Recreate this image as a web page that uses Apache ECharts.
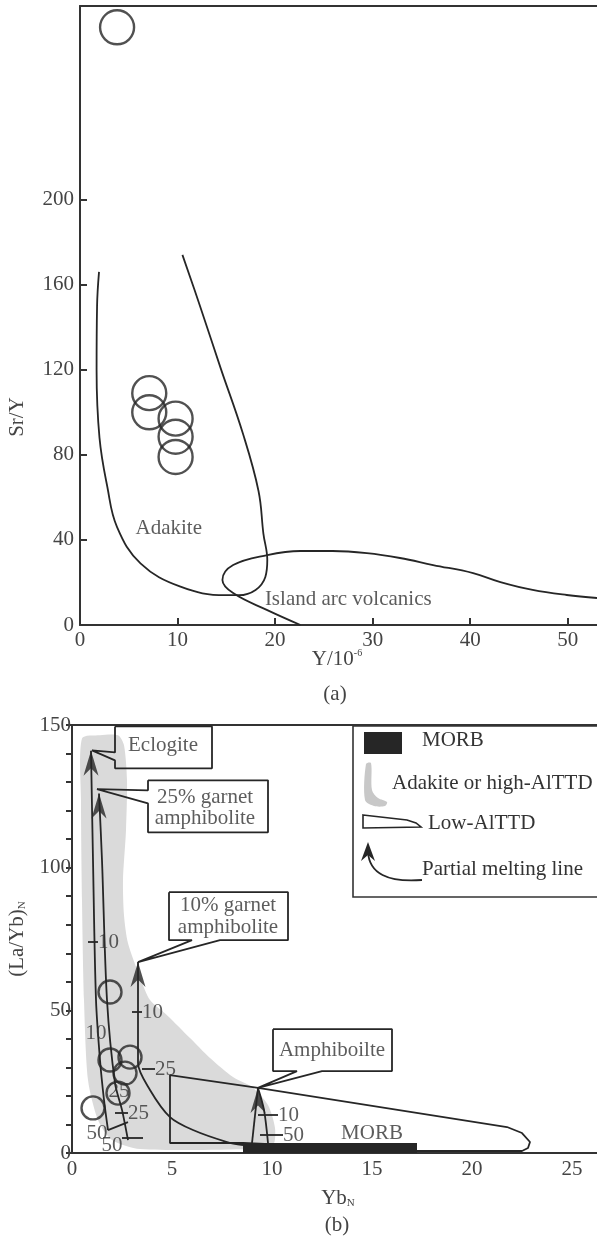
<!DOCTYPE html>
<html>
<head>
<meta charset="utf-8">
<script src="https://cdn.jsdelivr.net/npm/echarts@6/dist/echarts.min.js"></script>
<style>
html, body { margin: 0; padding: 0; background: #fff; }
#chart { width: 597px; height: 1240px; }
</style>
</head>
<body>
<div id="chart"></div>
<script>
// ---- (a) Sr/Y vs Y ----
var adakiteA = [[1.95,166],[1.75,150],[1.7,120],[2.0,88],[2.8,65],[3.8,46],[6.2,29],[10.3,18],[14.9,14],[16.3,14],[18,16.5],[19,22.6],[19.2,30.5],[18.8,43],[18.3,63],[16.7,90],[14.4,121],[12.3,150],[10.5,174]];
var islandArc = [[22.6,0],[19.2,7],[15.7,15],[14.6,21.2],[15.7,28.2],[19.2,32.9],[22.6,34.8],[25.9,34.8],[29.4,33.8],[32.8,31.5],[36.2,28.2],[40.3,24.4],[43.1,20.2],[46.4,16.5],[49.9,14.1],[53,12.7]];
var samplesA = [[3.8,281],[7.1,109],[7.1,100],[9.8,97],[9.8,88.5],[9.8,79]];
var textA = [[9.1,45.6,'Adakite'],[27.5,11.8,'Island arc volcanics']];
var yTicksA = [0,40,80,120,160,200];
var xTicksA = [0,10,20,30,40,50];

// ---- (b) (La/Yb)N vs YbN ----
var field = [[0.5,145.3],[1.4,146.4],[2.3,146.4],[2.6,142.9],[2.75,130.6],[2.7,113.1],[2.55,95.6],[2.6,83.3],[2.8,73.5],[3.4,61.6],[3.9,53.6],[4.75,48.3],[5.9,40.3],[6.9,33.3],[8.05,26.6],[9.0,23.1],[9.8,16.8],[10.15,8.75],[10.05,2.8],[8.9,1.4],[3.4,1.4],[2.0,4.55],[1.3,11.6],[0.8,25.6],[0.6,53.6],[0.5,88.6],[0.45,123.6]];
var morb = [[8.55,0],[17.25,0],[17.25,3.5],[8.55,3.5]];
var lowAl = [[4.9,27.3],[9.3,22.8],[21.75,9.1],[22.5,7],[22.9,3.85],[22.8,1.75],[22.5,0.7],[17.25,0.7],[8.55,3.5],[4.9,3.5],[4.9,27.3]];
var eclogiteLine = [[0.95,141],[1.05,102.6],[1.2,53.6],[1.4,32.6],[1.6,18.6],[1.8,8]];
var garnet25Line = [[1.35,126],[1.5,102.6],[1.75,53.6],[2.15,24.5],[2.5,15.1],[2.8,4.5]];
var garnet10Line = [[3.3,66.9],[3.3,31.5],[3.9,22.1],[4.9,12.6],[6.05,8.05],[7.75,3.85],[8.55,2.8]];
var amphLineL = [[9.3,22.8],[9.0,3.5]];
var amphLineR = [[9.3,22.8],[9.6,15.1],[9.8,3.5]];
var arrowTips = [[0.95,141],[1.35,126],[3.3,66.9],[9.3,22.8]];
var samplesB = [[1.9,56.4],[1.9,32.6],[2.9,33.6],[2.65,28],[2.3,21],[1.05,15.8]];
var meltTicks = [
  [[0.8,73.9],[1.3,73.9]], [[3.0,49.4],[3.5,49.4]], [[3.5,29.4],[4.15,29.4]],
  [[2.15,14],[2.8,14]], [[1.8,8],[2.8,10.85]], [[2.5,5.25],[3.55,5.25]],
  [[9.3,13.3],[10.3,13.3]], [[9.4,6.3],[10.55,6.3]]
];
var meltLabelsLeft = [[1.3,73.9,'10'],[3.5,49.4,'10'],[4.15,29.4,'25'],[2.8,14,'25'],[10.3,13.3,'10'],[10.55,6.3,'50']];
var meltLabelsMid = [[1.2,42,'10'],[2.35,21.4,'25'],[1.25,7,'50'],[2.0,2.8,'50']];
var calloutEclogite = [[2.15,149.5],[7.0,149.5],[7.0,134.8],[2.15,134.8],[2.15,137.6],[1.0,141.1],[2.15,140.4],[2.15,149.5]];
var callout25 = [[3.8,130.6],[9.8,130.6],[9.8,112.4],[3.8,112.4],[3.8,122.5],[1.25,127.5],[3.8,127.1],[3.8,130.6]];
var callout10 = [[4.85,91.4],[10.8,91.4],[10.8,74.6],[7.4,74.6],[3.3,66.9],[6.0,74.6],[4.85,74.6],[4.85,91.4]];
var calloutAmph = [[10.05,43.4],[16.0,43.4],[16.0,28.7],[12.5,28.7],[9.3,22.8],[11.25,28.7],[10.05,28.7],[10.05,43.4]];
var textB = [[4.55,142.9,'Eclogite'],[6.65,124.6,'25% garnet'],[6.65,117.3,'amphibolite'],[7.8,86.8,'10% garnet'],[7.8,79.1,'amphibolite'],[13.0,36.1,'Amphiboilte'],[15.0,7.0,'MORB']];
var yTicksB = [0,10,20,30,40,50,60,70,80,90,100,110,120,130,140,150];
var yLabelsB = [0,50,100,150];
var xTicksB = [0,5,10,15,20,25];

var FONT = "'Liberation Serif','Times New Roman',serif";
var FS = 21;
var INK = '#262626';
var chart = echarts.init(document.getElementById('chart'));

function curve(data, xi, yi, smooth) {
  return { type: 'line', xAxisIndex: xi, yAxisIndex: yi, data: data, smooth: smooth, symbol: 'none', silent: true,
    lineStyle: { color: INK, width: 1.8 }, z: 5 };
}
function poly(pts, fill, z) {
  return { type: 'custom', xAxisIndex: 2, yAxisIndex: 1, data: pts, z: z, silent: true,
    renderItem: function (params, api) {
      if (params.dataIndex !== 0) return;
      return { type: 'polygon', shape: { points: pts.map(function (p) { return api.coord(p); }), smooth: fill === INK ? 0 : 0.25 },
        style: { fill: fill } };
    } };
}
function texts(arr, xi, yi, align) {
  return { type: 'scatter', xAxisIndex: xi, yAxisIndex: yi, symbolSize: 1, silent: true, z: 8,
    itemStyle: { color: 'rgba(0,0,0,0)' },
    data: arr.map(function (t) { return { value: [t[0], t[1]], name: t[2] }; }),
    label: { show: true, position: 'inside', align: align, formatter: '{b}', color: '#333', fontSize: FS, fontFamily: FONT } };
}
function circles(arr, xi, yi, size) {
  return { type: 'scatter', xAxisIndex: xi, yAxisIndex: yi, data: arr, symbol: 'circle', symbolSize: size, silent: true, z: 7,
    itemStyle: { color: 'rgba(0,0,0,0)', borderColor: INK, borderWidth: 2.4 } };
}
var axisLineStyle = { lineStyle: { color: '#333', width: 2 } };
var labelStyle = { color: '#444', fontSize: FS, fontFamily: FONT };

chart.setOption({
  animation: false,
  backgroundColor: '#fff',
  grid: [
    { left: 80, top: 6, width: 517, height: 619 },
    { left: 72, top: 725, width: 525, height: 428 }
  ],
  xAxis: [
    { type: 'value', gridIndex: 0, min: 0, max: 53, axisLine: axisLineStyle, splitLine: { show: false },
      axisTick: { inside: true, length: 7, lineStyle: { color: '#333', width: 2 }, customValues: xTicksA.slice(1) },
      axisLabel: Object.assign({ margin: 5, customValues: xTicksA }, labelStyle) },
    { type: 'value', gridIndex: 0, position: 'top', min: 0, max: 53, axisLine: axisLineStyle,
      axisTick: { show: false }, axisLabel: { show: false }, splitLine: { show: false } },
    { type: 'value', gridIndex: 1, min: 0, max: 26.25, axisLine: axisLineStyle, splitLine: { show: false },
      axisTick: { show: false }, axisLabel: Object.assign({ margin: 6, customValues: xTicksB }, labelStyle) },
    { type: 'value', gridIndex: 1, position: 'top', min: 0, max: 26.25, axisLine: axisLineStyle,
      axisTick: { show: false }, axisLabel: { show: false }, splitLine: { show: false } }
  ],
  yAxis: [
    { type: 'value', gridIndex: 0, min: 0, max: 291, axisLine: axisLineStyle, splitLine: { show: false },
      axisTick: { inside: true, length: 7, lineStyle: { color: '#333', width: 2 }, customValues: yTicksA.slice(1) },
      axisLabel: Object.assign({ margin: 6, customValues: yTicksA }, labelStyle) },
    { type: 'value', gridIndex: 1, min: 0, max: 150, axisLine: axisLineStyle, splitLine: { show: false },
      axisTick: { inside: false, length: 6, lineStyle: { color: '#333', width: 2 }, customValues: yTicksB },
      axisLabel: Object.assign({ margin: 1, padding: [10, 0, 0, 0], customValues: yLabelsB }, labelStyle) }
  ],
  series: [
    curve(adakiteA, 0, 0, 0.4),
    curve(islandArc, 0, 0, 0.4),
    circles(samplesA, 0, 0, 34),
    texts(textA, 0, 0, 'center'),

    poly(field, '#dadada', 1),
    poly(morb, INK, 6),
    curve(lowAl, 2, 1, false),
    curve(eclogiteLine, 2, 1, 0.3),
    curve(garnet25Line, 2, 1, 0.3),
    curve(garnet10Line, 2, 1, 0.3),
    curve(amphLineL, 2, 1, false),
    curve(amphLineR, 2, 1, 0.3),
    curve(calloutEclogite, 2, 1, false),
    curve(callout25, 2, 1, false),
    curve(callout10, 2, 1, false),
    curve(calloutAmph, 2, 1, false),
    { type: 'lines', coordinateSystem: 'cartesian2d', xAxisIndex: 2, yAxisIndex: 1, silent: true, z: 5,
      lineStyle: { color: INK, width: 1.8, opacity: 1 },
      data: meltTicks.map(function (s) { return { coords: s }; }) },
    { type: 'scatter', xAxisIndex: 2, yAxisIndex: 1, data: arrowTips, silent: true, z: 9,
      symbol: 'path://M10,0 L20,30 L10,21 L0,30 Z', symbolSize: [15, 25], symbolOffset: [0, '50%'],
      itemStyle: { color: INK } },
    circles(samplesB, 2, 1, 23),
    texts(textB, 2, 1, 'center'),
    texts(meltLabelsLeft, 2, 1, 'left'),
    texts(meltLabelsMid, 2, 1, 'center')
  ],
  graphic: [
    { type: 'text', x: 17, y: 417, rotation: Math.PI / 2, silent: true,
      style: { text: 'Sr/Y', font: FS + 'px ' + FONT, fill: '#444', align: 'center', verticalAlign: 'middle' } },
    { type: 'text', x: 337, y: 659, silent: true,
      style: { text: '{n|Y/10}{s|-6}', align: 'center', verticalAlign: 'middle', fill: '#444',
        rich: { n: { fontSize: FS, fontFamily: FONT, fill: '#444' }, s: { fontSize: 10, fontFamily: FONT, fill: '#444', verticalAlign: 'top', padding: [0, 0, 10, 0] } } } },
    { type: 'text', x: 335, y: 694, silent: true,
      style: { text: '(a)', font: FS + 'px ' + FONT, fill: '#444', align: 'center', verticalAlign: 'middle' } },
    { type: 'text', x: 17, y: 939, rotation: Math.PI / 2, silent: true,
      style: { text: '{n|(La/Yb)}{s|N}', align: 'center', verticalAlign: 'middle', fill: '#444',
        rich: { n: { fontSize: FS, fontFamily: FONT, fill: '#444' }, s: { fontSize: 11, fontFamily: FONT, fill: '#444', verticalAlign: 'bottom' } } } },
    { type: 'text', x: 338, y: 1198, silent: true,
      style: { text: '{n|Yb}{s|N}', align: 'center', verticalAlign: 'middle', fill: '#444',
        rich: { n: { fontSize: FS, fontFamily: FONT, fill: '#444' }, s: { fontSize: 11, fontFamily: FONT, fill: '#444', verticalAlign: 'bottom' } } } },
    { type: 'text', x: 337, y: 1225, silent: true,
      style: { text: '(b)', font: FS + 'px ' + FONT, fill: '#444', align: 'center', verticalAlign: 'middle' } },
    // legend box
    { type: 'group', silent: true, children: [
      { type: 'rect', shape: { x: 353, y: 726, width: 250, height: 171 }, style: { fill: '#fff', stroke: '#333', lineWidth: 1.6 }, z: 20 },
      { type: 'rect', shape: { x: 364, y: 732, width: 38, height: 22 }, style: { fill: INK }, z: 21 },
      { type: 'text', x: 422, y: 740, style: { text: 'MORB', font: FS + 'px ' + FONT, fill: '#333', verticalAlign: 'middle' }, z: 21 },
      { type: 'polygon', shape: { points: [[366,764],[371,763],[372,790],[378,798],[387,802],[385,806],[374,806],[365,800]], smooth: 0.3 },
        style: { fill: '#c8c8c8' }, z: 21 },
      { type: 'text', x: 392, y: 783, style: { text: 'Adakite or high-AlTTD', font: FS + 'px ' + FONT, fill: '#333', verticalAlign: 'middle' }, z: 21 },
      { type: 'polygon', shape: { points: [[363,815],[407,820],[416,823],[421,827],[363,828]] },
        style: { fill: 'none', stroke: INK, lineWidth: 1.6 }, z: 21 },
      { type: 'text', x: 428, y: 823, style: { text: 'Low-AlTTD', font: FS + 'px ' + FONT, fill: '#333', verticalAlign: 'middle' }, z: 21 },
      { type: 'bezierCurve', shape: { x1: 422, y1: 880, cpx1: 370, cpy1: 884, x2: 368, y2: 852 },
        style: { fill: 'none', stroke: INK, lineWidth: 1.8 }, z: 21 },
      { type: 'polygon', shape: { points: [[368,842],[375,861],[368,855],[361,861]] }, style: { fill: INK }, z: 22 },
      { type: 'text', x: 422, y: 869, style: { text: 'Partial melting line', font: FS + 'px ' + FONT, fill: '#333', verticalAlign: 'middle' }, z: 21 }
    ] }
  ]
});
</script>
</body>
</html>
